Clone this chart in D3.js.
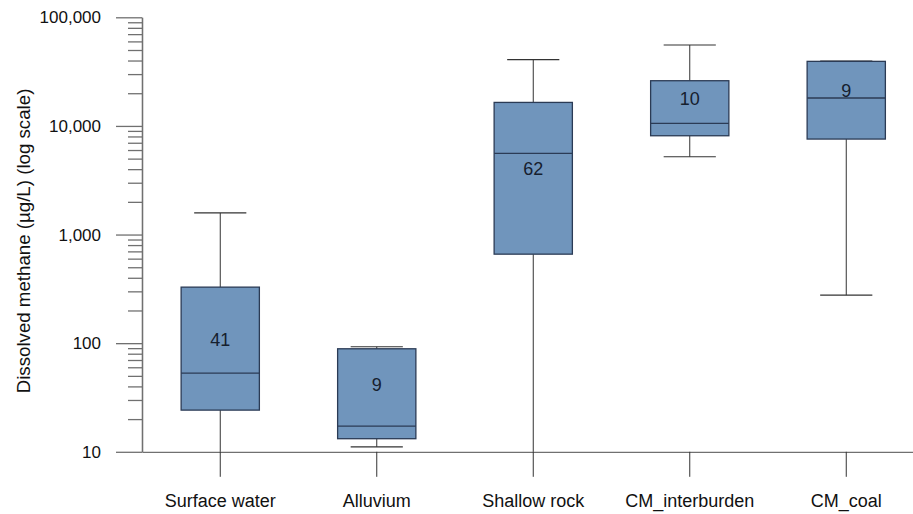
<!DOCTYPE html>
<html>
<head>
<meta charset="utf-8">
<script src="https://cdn.jsdelivr.net/npm/d3@7/dist/d3.min.js"></script>
<style>
  html, body { margin: 0; padding: 0; background: #ffffff; }
  svg { display: block; font-family: Arial, "Liberation Sans", Helvetica, sans-serif; }
</style>
</head>
<body>
<svg id="chart" width="913" height="514"></svg>
<script>
// Groups of samples
const categories = ["Surface water", "Alluvium", "Shallow rock", "CM_interburden", "CM_coal"];
// Box-plot statistics per group (µg/L); whiskerLow below 10 runs off the bottom of the axis
const whiskerLow  = [1,     11.1,  1,     5200,  277];
const q1          = [24.2,  13.2,  660,   8120,  7570];
const median      = [53,    17.2,  5580,  10550, 18070];
const q3          = [328,   88.8,  16460, 26070, 39300];
const whiskerHigh = [1580,  92.7,  40700, 55600, 39600];
const counts      = [41,    9,     62,    10,    9];
// Axis ticks
const majorTicks = [10, 100, 1000, 10000, 100000];
const majorTickLabels = ["10", "100", "1,000", "10,000", "100,000"];
const minorMultipliers = [2, 3, 4, 5, 6, 7, 8, 9];

const svg = d3.select("#chart");
const axisColor = "#707070";
const lineColor = "#333333";
const boxFill = "#7095bc";
const boxStroke = "#2b3b55";

const x = d3.scaleBand().domain(categories).range([142, 924.5]).padding(0);
const y = d3.scaleLog().domain([10, 100000]).range([451.8, 17.3]).clamp(true);

const minorTicks = [];
majorTicks.slice(0, -1).forEach(m => minorMultipliers.forEach(k => minorTicks.push(m * k)));

// Y axis: minor ticks, then major ticks with labels
const yMinor = svg.append("g").attr("transform", "translate(142,0)")
  .call(d3.axisLeft(y).tickValues(minorTicks).tickSize(14).tickSizeOuter(0).tickFormat(""));
const yMajor = svg.append("g").attr("transform", "translate(142,0)")
  .call(d3.axisLeft(y).tickValues(majorTicks).tickSize(26).tickSizeOuter(0).tickPadding(15)
    .tickFormat((d, i) => majorTickLabels[i]));
[yMinor, yMajor].forEach(g => {
  g.selectAll("path, line").attr("stroke", axisColor).attr("stroke-width", 1.3);
});
yMajor.selectAll("text").attr("font-size", 17).attr("fill", "#111").attr("font-family", "Arial, 'Liberation Sans', sans-serif");

// X axis
const xAxis = svg.append("g").attr("transform", "translate(0,451.8)")
  .call(d3.axisBottom(x).tickSize(25).tickSizeOuter(0).tickPadding(17));
xAxis.selectAll("path").attr("stroke", axisColor).attr("stroke-width", 1.3);
xAxis.selectAll("line").attr("stroke", lineColor).attr("stroke-width", 1);
xAxis.selectAll("text").attr("font-size", 18).attr("fill", "#111").attr("font-family", "Arial, 'Liberation Sans', sans-serif");

// Y axis title
svg.append("text")
  .attr("transform", "translate(30,241) rotate(-90)")
  .attr("text-anchor", "middle")
  .attr("font-size", 18.7)
  .attr("fill", "#111")
  .text("Dissolved methane (µg/L) (log scale)");

// Boxes
const boxW = x.bandwidth() / 2;
const capW = boxW * 2 / 3;
const data = categories.map((c, i) => ({
  c, lo: whiskerLow[i], q1: q1[i], med: median[i], q3: q3[i], hi: whiskerHigh[i], n: counts[i]
}));

const g = svg.append("g");
const groups = g.selectAll("g.box").data(data).join("g").attr("class", "box")
  .attr("transform", d => `translate(${x(d.c) + x.bandwidth() / 2},0)`);

// Whiskers
groups.append("line")
  .attr("x1", 0).attr("x2", 0)
  .attr("y1", d => y(d.q3)).attr("y2", d => y(d.hi))
  .attr("stroke", lineColor).attr("stroke-width", 1);
groups.append("line")
  .attr("x1", 0).attr("x2", 0)
  .attr("y1", d => y(d.q1)).attr("y2", d => y(d.lo))
  .attr("stroke", lineColor).attr("stroke-width", 1);
// Caps (only where the whisker end is on the scale)
groups.append("line")
  .attr("x1", -capW / 2).attr("x2", capW / 2)
  .attr("y1", d => y(d.hi)).attr("y2", d => y(d.hi))
  .attr("stroke", lineColor).attr("stroke-width", 1.2);
groups.filter(d => d.lo >= 10).append("line")
  .attr("x1", -capW / 2).attr("x2", capW / 2)
  .attr("y1", d => y(d.lo)).attr("y2", d => y(d.lo))
  .attr("stroke", lineColor).attr("stroke-width", 1.2);

// Box body
groups.append("rect")
  .attr("x", -boxW / 2).attr("width", boxW)
  .attr("y", d => y(d.q3)).attr("height", d => y(d.q1) - y(d.q3))
  .attr("fill", boxFill).attr("stroke", boxStroke).attr("stroke-width", 1.3);
// Median
groups.append("line")
  .attr("x1", -boxW / 2).attr("x2", boxW / 2)
  .attr("y1", d => y(d.med)).attr("y2", d => y(d.med))
  .attr("stroke", boxStroke).attr("stroke-width", 1.3);
// Sample counts
groups.append("text")
  .attr("text-anchor", "middle")
  .attr("y", d => (y(d.q1) + y(d.q3)) / 2 - 3)
  .attr("font-size", 18)
  .attr("fill", "#16202e")
  .text(d => d.n);
</script>
</body>
</html>
